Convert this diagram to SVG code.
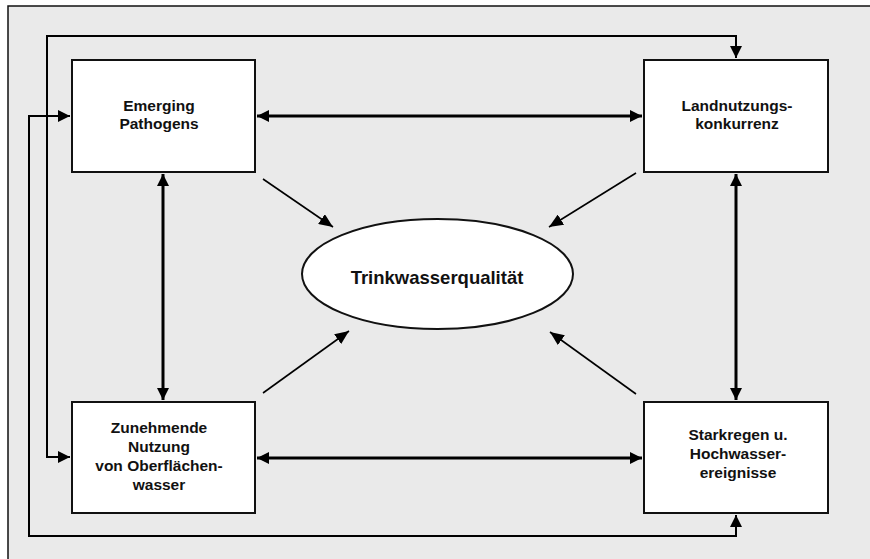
<svg xmlns="http://www.w3.org/2000/svg" width="870" height="559" viewBox="0 0 870 559">
<defs>
<style>
.box{fill:#fff;stroke:#111;stroke-width:2}
.lbl{font-family:"Liberation Sans",Arial,sans-serif;font-weight:bold;font-size:15.5px;fill:#111;text-anchor:middle}
.big{font-size:18.5px}
.thick{fill:none;stroke:#000;stroke-width:3}
.thin{fill:none;stroke:#000;stroke-width:2}
.diag{fill:none;stroke:#000;stroke-width:1.6}
</style>
<marker id="ah" viewBox="0 0 12 12" refX="12" refY="6" markerWidth="12" markerHeight="12" markerUnits="userSpaceOnUse" orient="auto-start-reverse">
<path d="M0,0 L12,6 L0,12 z" fill="#000"/>
</marker>
<marker id="ah2" viewBox="0 0 14 12" refX="14" refY="6" markerWidth="14" markerHeight="12" markerUnits="userSpaceOnUse" orient="auto-start-reverse">
<path d="M0,0 L14,6 L0,12 z" fill="#000"/>
</marker>
</defs>
<rect x="8" y="6" width="880" height="580" fill="#eaeaea" stroke="#111" stroke-width="1.5"/>
<g id="connectors">
<path class="thin" d="M70,457 H47 V36 H736 V58" marker-start="url(#ah)" marker-end="url(#ah)"/>
<path class="thin" d="M70,116 H29 V536 H736 V515" marker-start="url(#ah)" marker-end="url(#ah)"/>
<line class="thick" x1="257" y1="116" x2="642" y2="116" marker-start="url(#ah)" marker-end="url(#ah)"/>
<line class="thick" x1="257" y1="458" x2="642" y2="458" marker-start="url(#ah)" marker-end="url(#ah)"/>
<line class="thick" x1="163" y1="174" x2="163" y2="400" marker-start="url(#ah)" marker-end="url(#ah)"/>
<line class="thick" x1="736" y1="174" x2="736" y2="400" marker-start="url(#ah)" marker-end="url(#ah)"/>
<line class="diag" x1="263" y1="179" x2="333" y2="227" marker-end="url(#ah2)"/>
<line class="diag" x1="636" y1="173" x2="549" y2="227" marker-end="url(#ah2)"/>
<line class="diag" x1="263" y1="393" x2="349" y2="331" marker-end="url(#ah2)"/>
<line class="diag" x1="636" y1="394" x2="550" y2="332" marker-end="url(#ah2)"/>
</g>
<g id="emerging">
<rect class="box" x="72" y="60" width="183" height="112"/>
<text class="lbl" x="159" y="110.5">Emerging</text>
<text class="lbl" x="159" y="128.5">Pathogens</text>
</g>
<g id="landnutzung">
<rect class="box" x="644" y="60" width="184" height="112"/>
<text class="lbl" x="737" y="111">Landnutzungs-</text>
<text class="lbl" x="737" y="129">konkurrenz</text>
</g>
<g id="zunehmende">
<rect class="box" x="72" y="402" width="183" height="111"/>
<text class="lbl" x="159" y="433">Zunehmende</text>
<text class="lbl" x="159" y="452">Nutzung</text>
<text class="lbl" x="159" y="471">von Oberflächen-</text>
<text class="lbl" x="159" y="490">wasser</text>
</g>
<g id="starkregen">
<rect class="box" x="644" y="402" width="184" height="111"/>
<text class="lbl" x="738" y="440">Starkregen u.</text>
<text class="lbl" x="738" y="459">Hochwasser-</text>
<text class="lbl" x="738" y="478">ereignisse</text>
</g>
<g id="trinkwasser">
<ellipse class="box" cx="437.5" cy="274" rx="135.5" ry="55"/>
<text class="lbl big" x="437" y="284">Trinkwasserqualität</text>
</g>
</svg>
